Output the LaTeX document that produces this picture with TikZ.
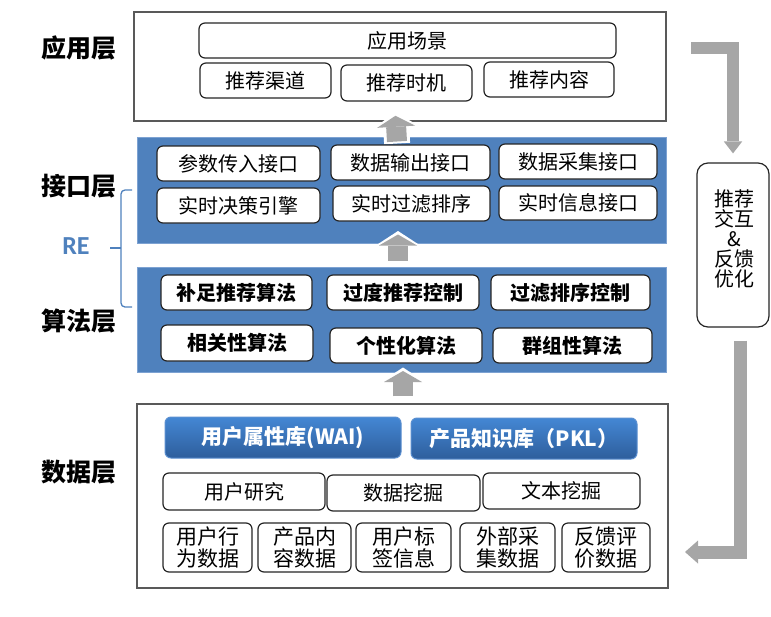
\documentclass[tikz,border=0pt]{standalone}
\usepackage{fontspec}
\setmainfont{Noto Sans CJK SC}
\newfontfamily\recal{Carlito}
\usetikzlibrary{arrows.meta,calc}
\definecolor{reblue}{HTML}{4F81BD}
\definecolor{reblueedge}{HTML}{7DA2D2}
\definecolor{agray}{HTML}{A6A6A6}
\definecolor{btop}{HTML}{4487D4}
\definecolor{bbot}{HTML}{2E5E9C}
\definecolor{bedge}{HTML}{5B8FD0}
\newcommand\layerarrow[2]{\draw[upbg] #1 -- #2; \draw[upfg] #1 -- #2;}
\begin{document}
\begin{tikzpicture}[x=1pt,y=-1pt,
  layerbox/.style={draw=black!65, line width=1.5pt, fill=white, inner sep=0pt},
  bluebox/.style={fill=reblue, draw=reblueedge, line width=1pt, inner sep=0pt},
  rbox/.style={draw=black!85, line width=1.2pt, fill=white, rounded corners=6pt, inner sep=0pt, font=\fontsize{20}{22}\selectfont},
  boldbox/.style={rbox, font=\bfseries\fontsize{20}{22}\selectfont},
  dbbox/.style={rounded corners=6pt, draw=bedge, line width=1pt, top color=btop, bottom color=bbot, text=white, inner sep=0pt, font=\bfseries\fontsize{21}{23}\selectfont},
  smallbox/.style={rbox, align=center, font=\fontsize{21}{22}\selectfont},
  layerlabel/.style={font=\bfseries\fontsize{25}{27}\selectfont},
  upbg/.style={draw=white, line width=26pt, -{Triangle[width=46pt,length=15pt,line width=0pt]}, shorten >=-3.5pt, shorten <=-2pt},
  upfg/.style={draw=agray, line width=20pt, -{Triangle[width=38pt,length=11pt,line width=0pt]}},
  fbarrow/.style={draw=agray, line width=12pt}
]
\useasboundingbox (0,0) rectangle (771,616);

% layer frames
\node[layerbox, minimum width=532pt, minimum height=109pt] (app) at (400,66.5) {};
\node[bluebox, minimum width=529pt, minimum height=106pt] (iface) at (401.5,190) {};
\node[bluebox, minimum width=529pt, minimum height=105pt] (algo) at (401.5,319.5) {};
\node[layerbox, minimum width=531pt, minimum height=184pt] (data) at (402.5,496) {};

% arrows between layers
\layerarrow{([xshift=-4.5pt,yshift=-5pt]iface.north)}{([xshift=-4.5pt,yshift=6pt]app.south)}
\layerarrow{([xshift=-3.5pt,yshift=6pt]algo.north)}{([xshift=-3.5pt,yshift=9pt]iface.south)}
\layerarrow{([xshift=0.5pt,yshift=7pt]data.north)}{([xshift=1.5pt,yshift=1.5pt]algo.south)}

% application layer
\node[rbox, minimum width=417pt, minimum height=35pt] (scene) at (407.5,40.5) {应用场景};
\node[rbox, minimum width=131pt, minimum height=35pt] (chan) at (265.5,80.5) {推荐渠道};
\node[rbox, minimum width=131pt, minimum height=36pt] (time) at (406.5,83) {推荐时机};
\node[rbox, minimum width=130pt, minimum height=35pt] (cont) at (549,79.5) {推荐内容};

% interface layer
\node[rbox, minimum width=163pt, minimum height=35pt] (i1) at (238.5,163.5) {参数传入接口};
\node[rbox, minimum width=159pt, minimum height=35pt] (i2) at (410.5,162.5) {数据输出接口};
\node[rbox, minimum width=158pt, minimum height=35pt] (i3) at (578,161.5) {数据采集接口};
\node[rbox, minimum width=163pt, minimum height=35pt] (i4) at (238.5,205.5) {实时决策引擎};
\node[rbox, minimum width=157pt, minimum height=35pt] (i5) at (411.5,203.5) {实时过滤排序};
\node[rbox, minimum width=158pt, minimum height=34pt] (i6) at (578,203) {实时信息接口};

% algorithm layer
\node[boldbox, minimum width=151pt, minimum height=35pt] (a1) at (236.5,292.5) {补足推荐算法};
\node[boldbox, minimum width=152pt, minimum height=35pt] (a2) at (403,292.5) {过度推荐控制};
\node[boldbox, minimum width=159pt, minimum height=35pt] (a3) at (570.5,292.5) {过滤排序控制};
\node[boldbox, minimum width=152pt, minimum height=36pt] (a4) at (237,343) {相关性算法};
\node[boldbox, minimum width=152pt, minimum height=35pt] (a5) at (406,345.5) {个性化算法};
\node[boldbox, minimum width=159pt, minimum height=35pt] (a6) at (572.5,345.5) {群组性算法};

% data layer
\node[dbbox, minimum width=236pt, minimum height=41pt] (wai) at (283,437.5) {用户属性库(WAI)};
\node[dbbox, minimum width=226pt, minimum height=41pt] (pkl) at (524,438.5) {产品知识库（PKL）};
\node[rbox, minimum width=162pt, minimum height=37pt] (d1) at (244,491.5) {用户研究};
\node[rbox, minimum width=153pt, minimum height=36pt] (d2) at (403.5,493) {数据挖掘};
\node[rbox, minimum width=157pt, minimum height=36pt] (d3) at (561.5,491) {文本挖掘};
\node[smallbox, minimum width=89pt, minimum height=49pt] (s1) at (207.5,547.5) {用户行\\为数据};
\node[smallbox, minimum width=93pt, minimum height=49pt] (s2) at (304.5,547.5) {产品内\\容数据};
\node[smallbox, minimum width=95pt, minimum height=49pt] (s3) at (403.5,547.5) {用户标\\签信息};
\node[smallbox, minimum width=95pt, minimum height=49pt] (s4) at (507.5,547.5) {外部采\\集数据};
\node[smallbox, minimum width=88pt, minimum height=49pt] (s5) at (606,547.5) {反馈评\\价数据};

% layer labels
\node[layerlabel] (lapp) at (78.5,47.5) {应用层};
\node[layerlabel] (lif) at (78.5,186) {接口层};
\node[layerlabel] (lalg) at (78.5,321) {算法层};
\node[layerlabel] (ldat) at (78.5,472) {数据层};
\node[font=\recal\bfseries\fontsize{26}{28}\selectfont, text=reblue] (re) at (76,246.5) {RE};
\draw[reblue, line width=1.3pt, rounded corners=4pt] (132,190) -| (121,307) -- (132,307);
\draw[reblue, line width=1.3pt] (121,248) -- (110,248);

% feedback loop
\node[draw=black!85, line width=1.2pt, fill=white, rounded corners=11pt, minimum width=72pt, minimum height=164pt, inner sep=0pt] (fb) at (733,245) {};
\node[align=center, font=\fontsize{20}{20}\selectfont, inner sep=0pt] (fbtext) at (734,238.5) {推荐\\交互\\\&\\反馈\\优化};
\coordinate (tstart) at (691,47.5);
\coordinate (bend) at (685,552);
\draw[fbarrow, -{Triangle[width=18.5pt,length=12pt,line width=0pt]}, shorten >=9pt] (tstart) -| (fb.north);
\draw[fbarrow, line width=13pt, -{Triangle[width=23pt,length=13pt,line width=0pt]}, shorten <=13pt] ([xshift=7pt]fb.south) |- (bend);
\end{tikzpicture}
\end{document}
